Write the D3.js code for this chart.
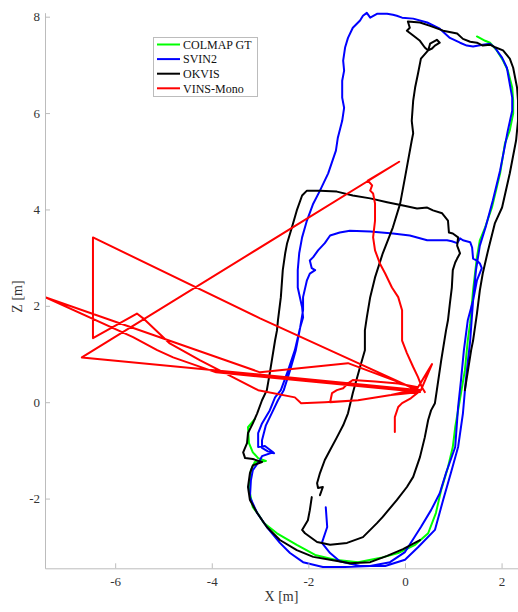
<!DOCTYPE html>
<html>
<head>
<meta charset="utf-8">
<script src="https://cdn.jsdelivr.net/npm/d3@7"></script>
<style>
  body { margin: 0; background: #fff; }
  text { font-family: "Liberation Serif", "Times New Roman", serif; }
</style>
</head>
<body>
<svg id="chart" width="518" height="612"></svg>
<script>
// Axis ticks
const xTicks = [-6, -4, -2, 0, 2];
const zTicks = [-2, 0, 2, 4, 6, 8];

// Legend entries
const seriesNames = ["COLMAP GT", "SVIN2", "OKVIS", "VINS-Mono"];
const seriesColors = ["#00ff00", "#0000ff", "#000000", "#ff0000"];

// Trajectories in the X-Z plane, [x, z] in metres
const colmapGT = [
  [-3.11,-0.35],[-3.25,-0.52],[-3.23,-0.85],[-3.15,-1.04],[-3.04,-1.16],[-2.88,-1.22],
  [-3.11,-1.24],[-3.19,-1.41],[-3.21,-1.62],[-3.21,-1.89],[-3.15,-2.18],[-3.04,-2.32],
  [-2.92,-2.51],[-2.65,-2.72],[-2.24,-2.96],[-1.86,-3.17],[-1.45,-3.27],[-0.97,-3.32],
  [-0.50,-3.23],[-0.14,-3.13],[0.21,-2.96],[0.48,-2.72],[0.64,-2.30],[0.75,-1.82],
  [0.89,-1.35],[0.99,-0.93],[1.04,-0.52],[1.16,0.19],[1.24,0.66],[1.30,1.28],
  [1.35,1.64],[1.41,2.32],[1.49,3.01],[1.55,3.36],[1.66,3.63],[1.80,4.04],
  [1.97,4.75],[2.07,5.37],[2.17,5.64],[2.24,5.99],[2.24,6.26],[2.22,6.53],
  [2.13,6.88],[2.03,7.09],[1.90,7.30],[1.76,7.46],[1.66,7.50],[1.49,7.59]
];

const svin2 = [
  [-1.64,-2.18],[-1.61,-2.59],[-1.72,-2.92],[-1.55,-3.13],[-1.35,-3.30],[-0.93,-3.40],
  [-0.41,-3.40],[0.00,-3.27],[0.27,-3.01],[0.62,-2.65],[0.79,-2.03],[0.95,-1.47],
  [1.10,-0.93],[1.20,-0.23],[1.26,0.46],[1.35,1.28],[1.41,2.11],[1.47,2.74],
  [1.55,3.25],[1.68,3.67],[1.82,4.19],[1.97,4.81],[2.05,5.22],[2.13,5.64],
  [2.22,6.05],[2.22,6.32],[2.11,6.94],[2.01,7.15],[1.86,7.36],[1.76,7.44],
  [1.61,7.42],[1.41,7.38],[1.28,7.40],[1.14,7.46],[0.93,7.56],[0.72,7.75],
  [0.46,7.88],[0.17,7.96],[-0.06,7.98],[-0.17,8.02],[-0.25,8.04],[-0.37,8.06],
  [-0.58,8.06],[-0.72,7.98],[-0.79,8.08],[-0.87,8.02],[-0.93,7.92],[-1.08,7.77],
  [-1.18,7.56],[-1.24,7.36],[-1.28,7.09],[-1.26,6.88],[-1.30,6.67],[-1.30,6.32],
  [-1.26,6.11],[-1.30,5.84],[-1.39,5.49],[-1.43,5.22],[-1.59,4.75],[-1.76,4.39],
  [-1.90,4.12],[-2.03,3.77],[-2.13,3.42],[-2.19,3.09],[-2.22,2.74],[-2.22,2.38],
  [-2.13,1.97],[-2.11,1.76],[-2.17,1.55],[-2.28,1.08],[-2.42,0.66],[-2.57,0.25],
  [-2.69,0.10],[-2.80,-0.17],[-2.96,-0.44],[-3.04,-0.64],[-3.04,-0.93],[-2.90,-0.91],
  [-2.73,-1.04],[-2.96,-1.12],[-3.00,-1.20],[-3.15,-1.41],[-3.19,-1.62],[-3.21,-1.97],
  [-3.06,-2.30],[-2.86,-2.59],[-2.59,-2.92],[-2.38,-3.13],[-2.11,-3.32],[-1.70,-3.42],
  [-1.24,-3.42],[-0.72,-3.40],[-0.31,-3.32],[0.00,-3.11],[0.33,-2.59],[0.54,-2.24],
  [0.72,-1.89],[0.85,-1.47],[1.04,-0.93],[1.10,-0.10],[1.16,0.46],[1.22,1.08],
  [1.30,1.70],[1.41,2.11],[1.49,2.53],[1.59,2.78],[1.55,2.88],[1.49,2.94],
  [1.41,2.98],[1.39,3.21],[1.35,3.32],[1.20,3.36],[1.14,3.40],[1.08,3.30],
  [0.97,3.34],[0.87,3.36],[0.46,3.36],[0.10,3.46],[-0.25,3.50],[-0.72,3.54],
  [-1.14,3.56],[-1.35,3.52],[-1.55,3.46],[-1.66,3.30],[-1.80,3.15],[-1.90,3.01],
  [-1.97,2.94],[-1.93,2.78],[-1.86,2.74],[-1.97,2.67],[-2.03,2.53],[-2.11,2.18],
  [-2.11,1.91],[-2.17,1.55],[-2.26,1.08],[-2.38,0.66],[-2.51,0.25],[-2.63,0.04],
  [-2.75,-0.21],[-2.88,-0.48],[-2.96,-0.79],[-2.96,-0.95],[-2.84,-1.02],[-2.71,-1.06]
];

// OKVIS: outer right lane, top edge and middle corridor
const okvisNorth = [
  [1.24,0.25],[1.37,1.08],[1.41,1.28],[1.49,1.84],[1.55,2.32],[1.61,2.67],
  [1.72,3.15],[1.86,3.71],[2.01,4.04],[2.17,4.75],[2.30,5.43],[2.34,5.84],
  [2.34,6.26],[2.32,6.53],[2.24,6.94],[2.17,7.13],[2.03,7.30],[1.88,7.36],
  [1.76,7.42],[1.61,7.40],[1.49,7.46],[1.35,7.48],[1.20,7.54],[1.08,7.65],
  [0.79,7.71],[0.52,7.81],[0.31,7.88],[0.06,7.90],[0.10,7.77],[0.04,7.71],
  [0.17,7.61],[0.31,7.50],[0.41,7.36],[0.48,7.30],[0.56,7.34],[0.62,7.40],
  [0.72,7.46],[0.66,7.52],[0.52,7.44],[0.48,7.30],[0.33,7.13],[0.27,6.82],
  [0.21,6.53],[0.17,6.26],[0.14,5.84],[0.17,5.58],[0.14,5.43],[0.00,4.66],
  [-0.10,4.12],[-0.25,3.63],[-0.46,3.09],[-0.62,2.59],[-0.72,2.18],[-0.79,1.76],
  [-0.83,1.49],[-0.83,1.08],[-0.93,0.73],[-1.08,0.19],[-1.18,-0.23],[-1.28,-0.48],
  [-1.41,-0.73],[-1.55,-0.99],[-1.66,-1.20],[-1.76,-1.47],[-1.82,-1.68],[-1.80,-1.78],
  [-1.70,-1.76],[-1.76,-1.93]
];

// OKVIS: inner loop, left lane and southern curve
const okvisSouth = [
  [-1.93,-1.97],[-1.97,-2.24],[-2.01,-2.45],[-2.13,-2.65],[-2.07,-2.72],[-1.82,-2.90],
  [-1.55,-2.96],[-1.20,-2.92],[-0.87,-2.80],[-0.58,-2.51],[-0.46,-2.38],[-0.17,-2.03],
  [0.04,-1.76],[0.17,-1.55],[0.31,-1.14],[0.41,-0.73],[0.48,-0.37],[0.54,-0.17],
  [0.62,-0.02],[0.66,0.25],[0.75,0.87],[0.85,1.49],[0.89,1.70],[0.93,2.05],
  [0.97,2.38],[0.99,2.74],[1.04,2.90],[1.08,2.98],[1.14,3.09],[1.08,3.25],
  [1.10,3.42],[0.99,3.50],[0.91,3.52],[0.89,3.77],[0.77,3.92],[0.58,3.98],
  [0.46,4.04],[0.25,4.02],[-0.04,4.08],[-0.37,4.15],[-0.72,4.23],[-1.08,4.29],
  [-1.41,4.37],[-1.76,4.39],[-2.03,4.39],[-2.13,4.29],[-2.24,3.98],[-2.34,3.63],
  [-2.44,3.30],[-2.48,3.09],[-2.53,2.74],[-2.57,2.18],[-2.63,1.70],[-2.65,1.49],
  [-2.69,1.28],[-2.80,0.60],[-2.86,0.25],[-2.96,0.04],[-3.06,-0.23],[-3.15,-0.44],
  [-3.25,-0.64],[-3.27,-0.85],[-3.35,-1.04],[-3.31,-1.16],[-3.15,-1.18],[-2.96,-1.24],
  [-3.15,-1.31],[-3.21,-1.47],[-3.25,-1.76],[-3.21,-2.03],[-3.06,-2.30],[-2.86,-2.59],
  [-2.59,-2.86],[-2.24,-3.07],[-1.90,-3.21],[-1.55,-3.27],[-1.14,-3.34],[-0.72,-3.32],
  [-0.37,-3.19],[-0.04,-3.05],[0.31,-2.86]
];

const vinsMono = [
  [-0.21,-0.62],[-0.21,-0.31],[-0.14,-0.10],[-0.06,-0.02],[0.12,0.08],[0.33,0.25],
  [0.56,0.79],[0.27,0.31],[-0.14,0.39],[-0.62,0.43],[-1.08,0.46],[-1.18,0.39],
  [-1.28,0.29],[-1.41,0.25],[-1.51,0.19],[-1.55,0.00],[-0.97,0.04],[-0.29,0.15],
  [0.06,0.23],[0.31,0.21],[-0.29,0.15],[-0.97,0.04],[-1.66,0.00],
  [-2.15,-0.02],[-2.28,0.10],[-3.04,0.25],[-4.24,0.87],[-4.87,1.22],[-5.42,1.74],
  [-5.55,1.84],[-6.46,1.33],[-6.46,3.42],[-3.00,1.74],[-0.97,0.81],[0.12,0.31],
  [0.31,0.21],[-3.91,0.62],[-4.80,0.93],[-5.13,1.08],[-5.63,1.35],[-7.45,2.18],
  [-3.00,0.62],[-1.18,0.81],[0.31,0.25],[-6.69,0.93],[-0.12,4.99],[-0.77,4.60],
  [-0.68,4.50],[-0.72,4.39],[-0.66,4.33],[-0.62,4.12],[-0.62,3.77],[-0.66,3.42],
  [-0.62,3.15],[-0.52,2.88],[-0.41,2.67],[-0.27,2.38],[-0.14,2.18],[-0.06,1.91],
  [-0.06,1.28],[0.04,1.02],[0.17,0.73],[0.27,0.52],[0.35,0.31],[0.41,0.21]
];

const svg = d3.select("#chart");
const plotLeft = 45, plotRight = 518, plotTop = 12.7, plotBottom = 568.3;

const x = d3.scaleLinear().domain([-7.453, 2.34]).range([plotLeft, plotRight]);
const z = d3.scaleLinear().domain([-3.447, 8.083]).range([plotBottom, plotTop]);

svg.append("defs").append("clipPath").attr("id", "plotClip")
  .append("rect").attr("x", plotLeft).attr("y", plotTop - 2)
  .attr("width", plotRight - plotLeft + 2).attr("height", plotBottom - plotTop + 2);

const line = d3.line().x(d => x(d[0])).y(d => z(d[1]));

const plot = svg.append("g").attr("clip-path", "url(#plotClip)");
const traces = [
  { data: colmapGT, color: seriesColors[0] },
  { data: svin2, color: seriesColors[1] },
  { data: okvisNorth, color: seriesColors[2] },
  { data: okvisSouth, color: seriesColors[2] },
  { data: vinsMono, color: seriesColors[3] }
];
plot.selectAll("path.trace").data(traces).join("path")
  .attr("class", "trace")
  .attr("d", d => line(d.data))
  .attr("fill", "none")
  .attr("stroke", d => d.color)
  .attr("stroke-width", 2)
  .attr("stroke-linejoin", "round")
  .attr("stroke-linecap", "round");

// Axes (left and bottom only, ticks pointing inward)
const axisColor = "#bcbcbc";
const xAxis = svg.append("g").attr("transform", `translate(0,${plotBottom})`)
  .call(d3.axisBottom(x).tickValues(xTicks).tickSizeInner(-5).tickSizeOuter(0).tickPadding(8)
    .tickFormat(d => d));
const zAxis = svg.append("g").attr("transform", `translate(${plotLeft},0)`)
  .call(d3.axisLeft(z).tickValues(zTicks).tickSizeInner(-5).tickSizeOuter(0).tickPadding(5)
    .tickFormat(d => d));
[xAxis, zAxis].forEach(a => {
  a.select(".domain").attr("stroke", axisColor);
  a.selectAll(".tick line").attr("stroke", axisColor);
  a.selectAll(".tick text").attr("fill", "#333").style("font-size", "13px")
    .style("font-family", "'Liberation Serif', serif");
});

svg.append("text").attr("x", (plotLeft + plotRight) / 2).attr("y", 601)
  .attr("text-anchor", "middle").attr("fill", "#333").style("font-size", "14px")
  .text("X [m]");
svg.append("text").attr("transform", `translate(22,${(plotTop + plotBottom) / 2 + 6}) rotate(-90)`)
  .attr("text-anchor", "middle").attr("fill", "#333").style("font-size", "14px")
  .text("Z [m]");

// Legend
const legend = svg.append("g").attr("transform", "translate(153.5,37.5)");
legend.append("rect").attr("width", 104).attr("height", 59)
  .attr("fill", "#fff").attr("stroke", "#bcbcbc").attr("stroke-width", 1);
const rows = legend.selectAll("g.row").data(seriesNames).join("g")
  .attr("class", "row")
  .attr("transform", (d, i) => `translate(0,${7 + i * 14.6})`);
rows.append("line").attr("x1", 3.5).attr("x2", 26.5).attr("y1", 0).attr("y2", 0)
  .attr("stroke", (d, i) => seriesColors[i]).attr("stroke-width", 2);
rows.append("text").attr("x", 29.5).attr("y", 0).attr("dy", "0.35em")
  .style("font-size", "12px").attr("fill", "#111").text(d => d);
</script>
</body>
</html>
